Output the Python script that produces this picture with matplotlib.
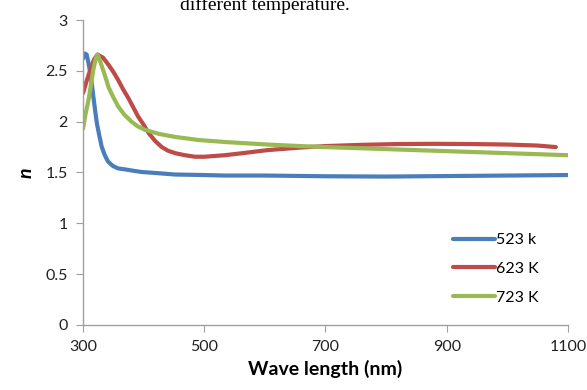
import matplotlib
matplotlib.use("Agg")
import matplotlib.pyplot as plt
from matplotlib.ticker import FuncFormatter

# Data
wl_523 = [300, 303, 306, 309, 312, 315, 317, 320, 323, 327, 331, 336, 341, 349, 358, 370, 385, 397, 420, 452, 500, 534, 600, 700, 800, 900, 1000, 1100]
n_523 = [2.62, 2.67, 2.66, 2.58, 2.48, 2.35, 2.25, 2.11, 1.98, 1.86, 1.75, 1.67, 1.61, 1.565, 1.54, 1.53, 1.515, 1.505, 1.495, 1.48, 1.475, 1.47, 1.47, 1.463, 1.46, 1.465, 1.47, 1.475]

wl_623 = [300, 306, 312, 318, 324, 333, 342, 350, 358, 366, 375, 383, 391, 400, 408, 419, 430, 440, 452, 468, 485, 500, 534, 570, 604, 658, 700, 760, 820, 880, 940, 1000, 1050, 1080]
n_623 = [2.28, 2.40, 2.51, 2.61, 2.66, 2.63, 2.56, 2.49, 2.41, 2.32, 2.23, 2.14, 2.05, 1.97, 1.89, 1.81, 1.75, 1.715, 1.69, 1.67, 1.655, 1.655, 1.67, 1.695, 1.72, 1.745, 1.76, 1.772, 1.78, 1.782, 1.78, 1.775, 1.765, 1.75]

wl_723 = [300, 304, 309, 313, 317, 321, 324, 328, 333, 338, 342, 350, 358, 368, 380, 390, 402, 425, 452, 490, 534, 604, 658, 700, 800, 900, 1000, 1100]
n_723 = [1.93, 2.07, 2.21, 2.36, 2.51, 2.62, 2.66, 2.60, 2.51, 2.42, 2.34, 2.24, 2.15, 2.07, 2.00, 1.955, 1.92, 1.88, 1.85, 1.82, 1.80, 1.775, 1.76, 1.75, 1.73, 1.71, 1.69, 1.67]

labels = ["523 k", "623 K", "723 K"]
colors = ["#4A7EBB", "#BE4B48", "#98B954"]

x_ticks = [300, 500, 700, 900, 1100]
y_ticks = [0, 0.5, 1, 1.5, 2, 2.5, 3]

plt.rcParams['font.family'] = ['Lato', 'DejaVu Sans']

fig = plt.figure(figsize=(5.87, 3.9), dpi=100)
ax = fig.add_axes([0.1414, 0.1667, 0.8262, 0.782])

for wl, n, lab, c in zip([wl_523, wl_623, wl_723], [n_523, n_623, n_723], labels, colors):
    ax.plot(wl, n, color=c, lw=3, label=lab, solid_capstyle='round', solid_joinstyle='round')

ax.set_xlim(300, 1100)
ax.set_ylim(0, 3)
ax.set_xticks(x_ticks)
ax.set_yticks(y_ticks)
ax.yaxis.set_major_formatter(FuncFormatter(lambda v, p: f"{v:g}"))
for s in ['top', 'right']:
    ax.spines[s].set_visible(False)
for s in ['left', 'bottom']:
    ax.spines[s].set_color('#A0A0A0')
    ax.spines[s].set_linewidth(1)
ax.tick_params(direction='out', length=5, color='#A0A0A0', labelsize=11.5, labelcolor='#222222', pad=6)

ax.set_xlabel("Wave length (nm)", fontsize=14, fontweight='bold', labelpad=4)
ax.set_ylabel("n", fontsize=14, fontweight='bold', style='italic', labelpad=8)

leg = ax.legend(loc='lower right', bbox_to_anchor=(0.97, 0.02), frameon=False, fontsize=11.5,
                handlelength=2.6, handletextpad=0.1, labelspacing=0.9)

fig.text(0.452, 0.975, "different temperature.", family='Liberation Serif', fontsize=14,
         ha='center', va='baseline')

fig.savefig("out.png", dpi=100)
